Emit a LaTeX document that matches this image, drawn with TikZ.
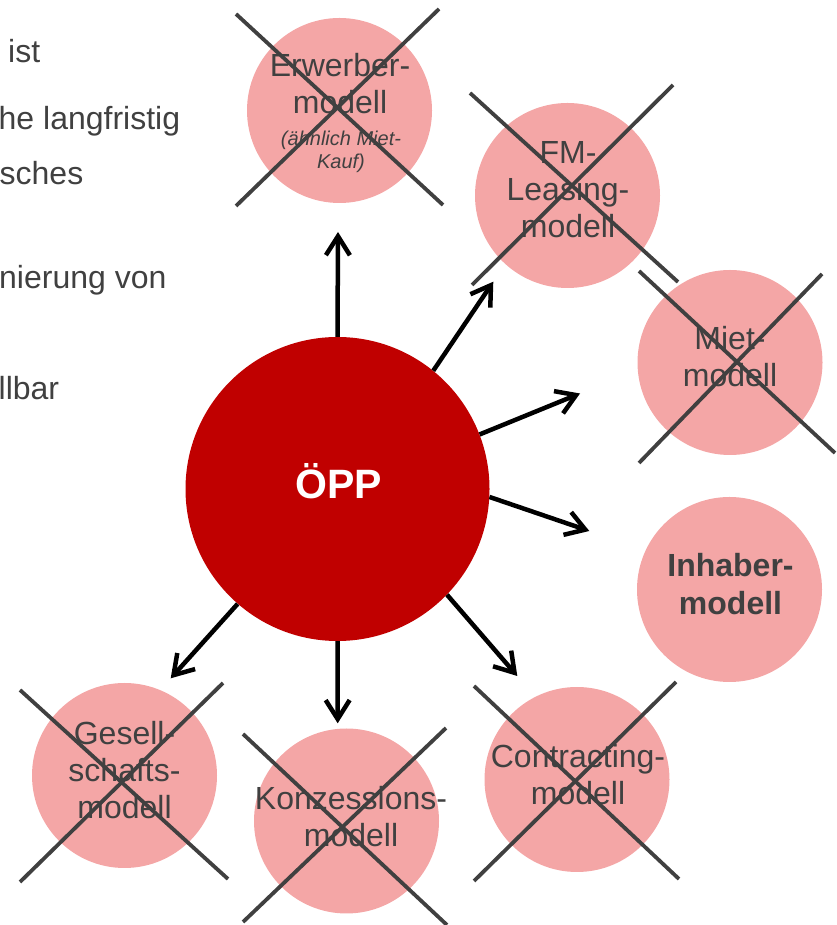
\documentclass[tikz,border=0pt]{standalone}
\usepackage{fontspec}
\setmainfont{Liberation Sans}
\usetikzlibrary{arrows.meta}
\definecolor{pinkc}{HTML}{F4A6A6}
\definecolor{redc}{HTML}{C00000}
\definecolor{greyc}{HTML}{404040}
\begin{document}
\begin{tikzpicture}[x=1pt,y=1pt,
  model/.style={circle, fill=pinkc, minimum size=185pt, inner sep=0pt},
  ctr/.style={circle, fill=redc, minimum size=304pt, inner sep=0pt},
  lbl/.style={text=greyc, align=center, font=\fontsize{32}{37}\selectfont, inner sep=0pt},
  sidetxt/.style={text=greyc, anchor=base west, font=\fontsize{32}{37}\selectfont, inner sep=0pt},
  xline/.style={draw=greyc, line width=3.8pt},
  arr/.style={draw=black, line width=4.5pt, -{Straight Barb[length=19pt,width=24pt]}}
]
\useasboundingbox (0,0) rectangle (836,925);

% left cut-off text
\node[sidetxt] (t1) at (8,862) {ist};
\node[sidetxt] (t2) at (-1.5,795) {he langfristig};
\node[sidetxt] (t3) at (-0.5,740) {sches};
\node[sidetxt] (t4) at (-1,636.7) {nierung von};
\node[sidetxt] (t5) at (-1.5,525) {llbar};

% circles
\node[ctr] (opp) at (337.5,436) {};
\node[model] (erw) at (339.5,814.5) {};
\node[model] (fml) at (567.5,729.5) {};
\node[model] (miet) at (730,562.5) {};
\node[model] (inh) at (729.5,335.5) {};
\node[model] (ges) at (124.5,149.5) {};
\node[model] (konz) at (346.5,104) {};
\node[model] (contr) at (577,145.5) {};

% texts
\node[text=white, anchor=base, inner sep=0pt, font=\fontsize{41}{46}\selectfont\bfseries] (oppt) at (338.5,426.7) {ÖPP};
\node[lbl] (erwt) at (340,841.1) {Erwerber-\\modell};
\node[lbl, font=\fontsize{20}{23}\selectfont\itshape] (erwi) at (341,773.2) {(ähnlich Miet-\\Kauf)};
\node[lbl] (fmlt) at (568,735) {FM-\\Leasing-\\modell};
\node[lbl] (mict) at (730,568) {Miet-\\modell};
\node[lbl, font=\fontsize{32}{38}\selectfont\bfseries] (inht) at (730.5,340.5) {Inhaber-\\modell};
\node[lbl] (gest) at (124.5,155.2) {Gesell-\\schafts-\\modell};
\node[lbl] (konzt) at (351,108) {Konzessions-\\modell};
\node[lbl] (contrt) at (578,150.7) {Contracting-\\modell};

% crosses
\draw[xline] (236,911) -- (443,720);
\draw[xline] (439,916) -- (236,719);
\draw[xline] (470,832) -- (678,643);
\draw[xline] (673,840) -- (472,640);
\draw[xline] (639,654) -- (835,472);
\draw[xline] (822,651) -- (639,462);
\draw[xline] (20,235) -- (228,46);
\draw[xline] (223,242) -- (20,43);
\draw[xline] (243,191) -- (447,0);
\draw[xline] (446,197) -- (243,3);
\draw[xline] (474,239) -- (679,46);
\draw[xline] (676,243) -- (474,44);

% arrow tips
\coordinate (a1) at (338,693);
\coordinate (a2) at (493.3,643.3);
\coordinate (a3) at (580,531.5);
\coordinate (a4) at (589.3,394);
\coordinate (a5) at (517.3,249);
\coordinate (a6) at (337.7,201.7);
\coordinate (a7) at (170.7,246.7);

\draw[arr] (opp.90) -- (a1);
\draw[arr] (opp.51.2) -- (a2);
\draw[arr] (opp.21.7) -- (a3);
\draw[arr] (opp.-3) -- (a4);
\draw[arr] (opp.-44.6) -- (a5);
\draw[arr] (opp.-90) -- (a6);
\draw[arr] (opp.-131) -- (a7);
\end{tikzpicture}
\end{document}
